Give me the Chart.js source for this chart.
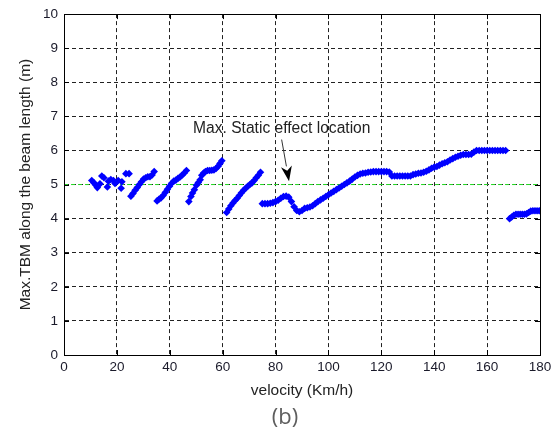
<!DOCTYPE html>
<html>
<head>
<meta charset="utf-8">
<script src="https://cdn.jsdelivr.net/npm/chart.js@4"></script>
<style>
    body { margin: 0; background: #fff; }
    #wrap { width: 560px; height: 436px; position: relative; }
</style>
</head>
<body>
<div id="wrap"><canvas id="tbmChart"></canvas></div>
<script>
// velocity (Km/h) vs max TBM location (m)
const velocity = [
    10.5, 11.3, 12.1, 12.6, 13.6, 14.3, 15.1, 16.4, 16.8, 17.7, 18.7, 19.3, 20.5, 21.6, 21.9, 23.4, 24.6,
    25.3, 26.1, 26.9, 27.7, 28.5, 29.3, 30.1, 30.9, 31.7, 32.5, 33.3, 34.1,
    35.2, 35.9, 36.7, 37.5, 38.3, 39.1, 39.9, 40.7, 41.5, 42.3, 43.1, 43.9, 44.7, 45.5, 46.3,
    47.2, 48.0, 48.6, 49.3, 50.1, 50.8, 51.5, 52.1, 52.8, 53.5, 54.3, 55.1, 55.9, 56.7, 57.5, 58.3, 59.0, 59.7,
    61.5, 62.3, 63.1, 63.9, 64.7, 65.5, 66.3, 67.1, 67.9, 68.7, 69.5, 70.3, 71.1, 71.9, 72.7, 73.5, 74.3,
    75, 76, 77, 78, 79, 80, 81, 82, 83, 84, 85, 86, 87, 88, 89, 90, 91, 92, 93, 94, 95, 96, 97, 98, 99,
    100, 101, 102, 103, 104, 105, 106, 107, 108, 109, 110, 111, 112, 113, 114, 115, 116, 117, 118, 119,
    120, 121, 122, 123, 124, 125, 126, 127, 128, 129, 130, 131, 132, 133, 134, 135, 136, 137, 138, 139,
    140, 141, 142, 143, 144, 145, 146, 147, 148, 149, 150, 151, 152, 153, 154, 155, 156, 157, 158, 159,
    160, 161, 162, 163, 164, 165, 166, 167,
    168.5, 169.3, 170.1, 170.9, 171.7, 172.5, 173.3, 174.1, 174.9, 175.7, 176.5, 177.3, 178.1, 178.9, 179.7,
]
const tbm = [
    5.12, 5.05, 4.98, 4.91, 5.02, 5.25, 5.2, 4.93, 5.1, 5.15, 5.12, 5.03, 5.12, 4.89, 5.08, 5.32, 5.32,
    4.66, 4.74, 4.83, 4.91, 5.0, 5.08, 5.16, 5.2, 5.23, 5.23, 5.28, 5.38,
    4.52, 4.57, 4.61, 4.68, 4.77, 4.86, 4.95, 5.04, 5.1, 5.13, 5.18, 5.22, 5.28, 5.34, 5.41,
    4.5, 4.65, 4.75, 4.85, 4.98, 5.06, 5.14, 5.27, 5.34, 5.38, 5.41, 5.41, 5.42, 5.43, 5.47, 5.54, 5.62, 5.7,
    4.18, 4.28, 4.38, 4.46, 4.53, 4.6, 4.68, 4.76, 4.83, 4.89, 4.95, 5.0, 5.05, 5.12, 5.2, 5.27, 5.36,
    4.44, 4.44, 4.44, 4.45, 4.47, 4.5, 4.54, 4.6, 4.65, 4.66, 4.63, 4.5, 4.35, 4.24, 4.2, 4.24, 4.3, 4.32, 4.34, 4.38, 4.44, 4.5, 4.55, 4.6, 4.65,
    4.7, 4.75, 4.8, 4.85, 4.9, 4.95, 5.0, 5.05, 5.1, 5.16, 5.22, 5.27, 5.31, 5.33, 5.34, 5.36, 5.37, 5.38, 5.38, 5.38,
    5.38, 5.38, 5.38, 5.37, 5.25, 5.25, 5.25, 5.25, 5.25, 5.25, 5.25, 5.25, 5.29, 5.31, 5.33, 5.34, 5.36, 5.39, 5.43, 5.48,
    5.51, 5.53, 5.57, 5.61, 5.64, 5.67, 5.72, 5.76, 5.8, 5.83, 5.86, 5.88, 5.88, 5.88, 5.89, 5.95, 6.0, 6.0, 6.0, 6.0,
    6.0, 6.0, 6.0, 6.0, 6.0, 6.0, 6.0, 6.0,
    4.0, 4.05, 4.1, 4.13, 4.13, 4.13, 4.13, 4.13, 4.14, 4.18, 4.22, 4.23, 4.23, 4.23, 4.23,
]
const refLevel = 5
const xTicks = [0, 20, 40, 60, 80, 100, 120, 140, 160, 180]
const yTicks = [0, 1, 2, 3, 4, 5, 6, 7, 8, 9, 10]

const annotText = "Max. Static effect location"
const annotTextAt = [48.8, 6.5]
const arrowFrom = [82.3, 6.32]
const arrowTo = [85.1, 5.1]

const FONT = "'Liberation Sans', Arial, sans-serif"

const matlabBox = {
    id: "matlabBox",
    afterDraw(chart) {
        const { ctx, chartArea: a, scales } = chart
        const xs = scales.x
        const ys = scales.y
        ctx.save()
        // inward ticks
        ctx.strokeStyle = "#000"
        ctx.lineWidth = 1
        ctx.beginPath()
        xTicks.forEach((v) => {
            const px = Math.round(xs.getPixelForValue(v)) + 0.5
            ctx.moveTo(px, a.bottom)
            ctx.lineTo(px, a.bottom - 5)
            ctx.moveTo(px, a.top)
            ctx.lineTo(px, a.top + 5)
        })
        yTicks.forEach((v) => {
            const py = Math.round(ys.getPixelForValue(v)) + 0.5
            ctx.moveTo(a.left, py)
            ctx.lineTo(a.left + 5, py)
            ctx.moveTo(a.right, py)
            ctx.lineTo(a.right - 5, py)
        })
        ctx.stroke()
        // box
        ctx.strokeRect(Math.round(a.left) + 0.5, Math.round(a.top) + 0.5,
            Math.round(a.right - a.left), Math.round(a.bottom - a.top))

        // annotation text + arrow
        ctx.fillStyle = "#222"
        ctx.font = `15.6px ${FONT}`
        ctx.textBaseline = "alphabetic"
        ctx.textAlign = "left"
        ctx.fillText(annotText, xs.getPixelForValue(annotTextAt[0]), ys.getPixelForValue(annotTextAt[1]))

        const x0 = xs.getPixelForValue(arrowFrom[0])
        const y0 = ys.getPixelForValue(arrowFrom[1])
        const x1 = xs.getPixelForValue(arrowTo[0])
        const y1 = ys.getPixelForValue(arrowTo[1])
        const ang = Math.atan2(y1 - y0, x1 - x0)
        const headLen = 15
        const headW = 5.5
        ctx.strokeStyle = "#333"
        ctx.beginPath()
        ctx.moveTo(x0, y0)
        ctx.lineTo(x1 - headLen * Math.cos(ang), y1 - headLen * Math.sin(ang))
        ctx.stroke()
        ctx.fillStyle = "#000"
        ctx.beginPath()
        ctx.moveTo(x1, y1)
        ctx.lineTo(x1 - headLen * Math.cos(ang) - headW * Math.sin(ang), y1 - headLen * Math.sin(ang) + headW * Math.cos(ang))
        ctx.lineTo(x1 - headLen * 0.7 * Math.cos(ang), y1 - headLen * 0.7 * Math.sin(ang))
        ctx.lineTo(x1 - headLen * Math.cos(ang) + headW * Math.sin(ang), y1 - headLen * Math.sin(ang) - headW * Math.cos(ang))
        ctx.closePath()
        ctx.fill()

        // panel caption
        ctx.fillStyle = "#5e5e5e"
        ctx.font = "22px 'Open Sans', 'Noto Sans', sans-serif"
        ctx.textAlign = "center"
        ctx.textBaseline = "middle"
        ctx.fillText("(b)", 285, 418)
        ctx.restore()
    },
}

const ctx = document.getElementById("tbmChart").getContext("2d")
const tbmChart = new Chart(ctx, {
    type: "scatter",
    data: {
        datasets: [
            {
                label: "reference",
                type: "line",
                data: [{ x: 0, y: refLevel }, { x: 180, y: refLevel }],
                borderColor: "rgb(40, 220, 40)",
                borderWidth: 1,
                borderDash: [4, 3],
                pointRadius: 0,
                order: 2,
            },
            {
                label: "Max TBM",
                data: velocity.map((v, i) => ({ x: v, y: tbm[i] })),
                backgroundColor: "#0000ff",
                borderColor: "#0000ff",
                borderWidth: 0,
                pointStyle: "rectRot",
                pointRadius: 3.8,
                order: 1,
            },
        ],
    },
    options: {
        responsive: true,
        maintainAspectRatio: false,
        animation: false,
        layout: { padding: { left: 0, right: 20, top: 12, bottom: 0 } },
        plugins: {
            legend: { display: false },
            tooltip: { enabled: false },
        },
        scales: {
            x: {
                type: "linear",
                min: 0,
                max: 180,
                afterBuildTicks: (scale) => {
                    scale.ticks = xTicks.map((v) => ({ value: v }))
                },
                afterFit: (scale) => {
                    scale.height = 81
                },
                ticks: {
                    color: "#1a1a2a",
                    font: { family: FONT, size: 13.5 },
                    padding: 4,
                    maxRotation: 0,
                },
                grid: {
                    color: "#222",
                    lineWidth: 1,
                    drawTicks: false,
                },
                border: { display: true, color: "#000", dash: [4, 3], width: 1 },
                title: {
                    display: true,
                    text: "velocity (Km/h)",
                    color: "#222",
                    font: { family: FONT, size: 15.5 },
                    padding: { top: 0, bottom: 36 },
                },
            },
            y: {
                type: "linear",
                min: 0,
                max: 10,
                afterBuildTicks: (scale) => {
                    scale.ticks = yTicks.map((v) => ({ value: v }))
                },
                afterFit: (scale) => {
                    scale.width = 64
                },
                ticks: {
                    color: "#1a1a2a",
                    font: { family: FONT, size: 13.5 },
                    padding: 6,
                },
                grid: {
                    color: "#222",
                    lineWidth: 1,
                    drawTicks: false,
                },
                border: { display: true, color: "#000", dash: [4, 3], width: 1 },
                title: {
                    display: true,
                    text: "Max.TBM along the beam length (m)",
                    color: "#222",
                    font: { family: FONT, size: 15.5 },
                    padding: { top: 16, bottom: 0 },
                },
            },
        },
    },
    plugins: [matlabBox],
})
</script>
</body>
</html>
